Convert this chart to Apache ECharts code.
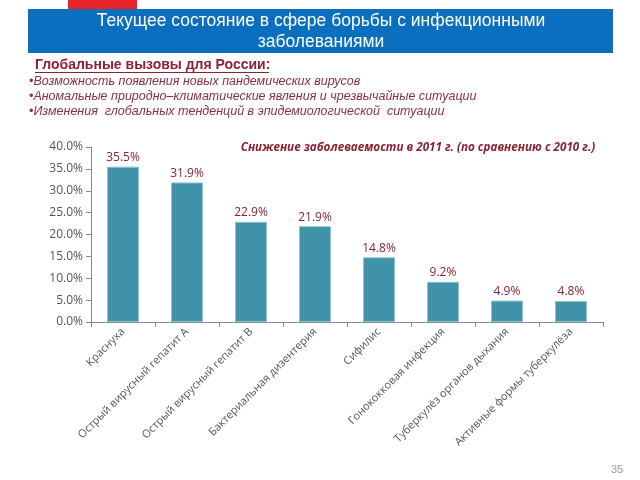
<!DOCTYPE html>
<html><head><meta charset="utf-8">
<script src="https://cdn.jsdelivr.net/npm/echarts@6/dist/echarts.min.js"></script>
<style>html,body{margin:0;padding:0;background:#fff}#c{width:640px;height:480px}</style>
</head><body><div id="c"></div>
<script>
const categories = ['Краснуха','Острый вирусный гепатит А','Острый вирусный гепатит В','Бактериальная дизентерия','Сифилис','Гонококковая инфекция','Туберкулёз органов дыхания','Активные формы туберкулёза'];
const values = [35.5, 31.9, 22.9, 21.9, 14.8, 9.2, 4.9, 4.8];
const yTicks = [0, 5, 10, 15, 20, 25, 30, 35, 40];
const headerLines = ['Текущее состояние в сфере борьбы с инфекционными', 'заболеваниями'];
const subHeading = 'Глобальные вызовы для России:';
const bullets = ['•Возможность появления новых пандемических вирусов','•Аномальные природно–климатические явления и чрезвычайные ситуации','•Изменения  глобальных тенденций в эпидемиологической  ситуации'];
const chartTitle = 'Снижение заболеваемости в 2011 г. (по сравнению с 2010 г.)';
const pageNum = '35';

const chart = echarts.init(document.getElementById('c'));
const red = '#8B2233';
chart.setOption({
  animation: false,
  backgroundColor: '#fff',
  grid: {left: 91, right: 37, top: 147, bottom: 158},
  title: {text: chartTitle, left: 413, top: 137, textAlign: 'center',
    textStyle: {color: red, fontSize: 11.7, fontStyle: 'italic', fontWeight: 'bold', fontFamily: 'Open Sans'}},
  graphic: [
    {type: 'rect', shape: {x: 68, y: 0, width: 69, height: 9}, style: {fill: '#E8242B'}},
    {type: 'rect', shape: {x: 28, y: 9, width: 585, height: 44}, style: {fill: '#0B6FC0'}},
    {type: 'text', style: {x: 321, y: 21, text: headerLines[0], fill: '#fff', font: '17.5px "Liberation Sans"', textAlign: 'center', textVerticalAlign: 'middle'}},
    {type: 'text', style: {x: 321, y: 42, text: headerLines[1], fill: '#fff', font: '17.5px "Liberation Sans"', textAlign: 'center', textVerticalAlign: 'middle'}},
    {type: 'text', style: {x: 35, y: 65, text: subHeading, fill: red, font: 'bold 14px "Liberation Sans"', textVerticalAlign: 'middle'}},
    {type: 'rect', shape: {x: 35, y: 72, width: 234, height: 1}, style: {fill: red}},
    {type: 'text', style: {x: 29, y: 82, text: bullets[0], fill: '#8A3040', font: 'italic 12.5px "Liberation Sans"', textVerticalAlign: 'middle'}},
    {type: 'text', style: {x: 29, y: 97, text: bullets[1], fill: '#8A3040', font: 'italic 12.5px "Liberation Sans"', textVerticalAlign: 'middle'}},
    {type: 'text', style: {x: 29, y: 112, text: bullets[2], fill: '#8A3040', font: 'italic 12.5px "Liberation Sans"', textVerticalAlign: 'middle'}},
    {type: 'text', style: {x: 617, y: 470, text: pageNum, fill: '#999', font: '11px "Liberation Sans"', textAlign: 'center', textVerticalAlign: 'middle'}}
  ],
  xAxis: {type: 'category', data: categories,
    axisLine: {lineStyle: {color: '#888'}},
    axisTick: {show: true, alignWithLabel: false, lineStyle: {color: '#888'}},
    axisLabel: {rotate: 45, color: '#555', fontSize: 11, fontFamily: 'Open Sans', interval: 0, margin: 8}},
  yAxis: {type: 'value', min: 0, max: 40, interval: 5,
    axisLine: {show: true, lineStyle: {color: '#888'}},
    axisTick: {show: true, lineStyle: {color: '#888'}},
    splitLine: {show: false},
    axisLabel: {color: '#555', fontSize: 12, fontFamily: 'Open Sans', formatter: v => v.toFixed(1) + '%'}},
  series: [{type: 'bar', data: values, barWidth: '50%',
    itemStyle: {color: '#3F92A8', borderColor: '#8FC3D1', borderWidth: 1},
    label: {show: true, position: 'top', color: red, fontSize: 12, fontFamily: 'Open Sans', distance: 3,
      formatter: p => p.value.toFixed(1) + '%'}}]
});
</script></body></html>
